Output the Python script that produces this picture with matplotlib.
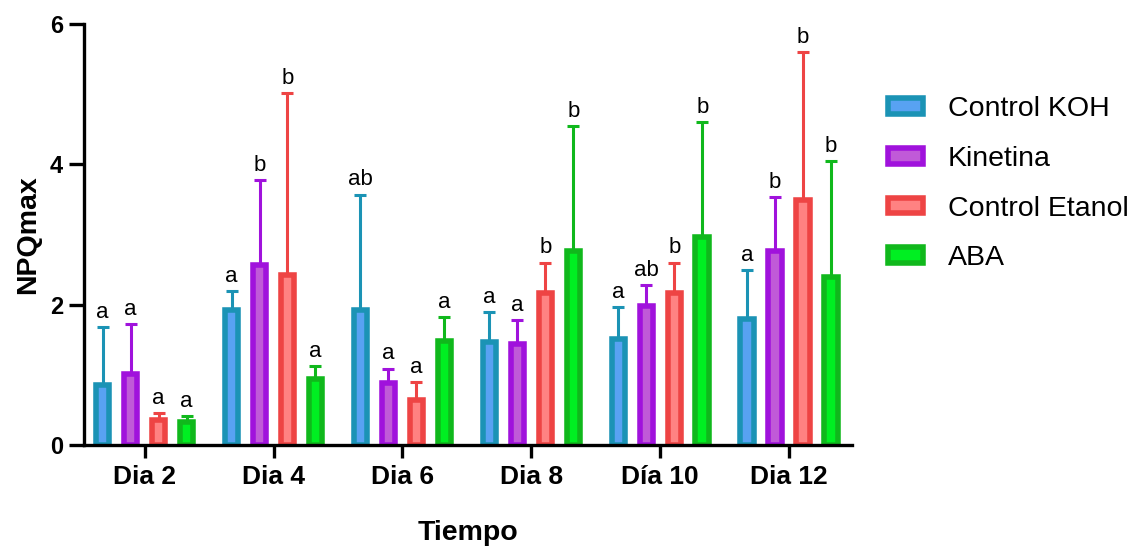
import numpy as np
import matplotlib.pyplot as plt

dias = ['Dia 2', 'Dia 4', 'Dia 6', 'Dia 8', 'Día 10', 'Dia 12']
series = ['Control KOH', 'Kinetina', 'Control Etanol', 'ABA']

koh = [0.85, 1.93, 1.93, 1.47, 1.51, 1.80]
kin = [1.01, 2.57, 0.88, 1.44, 1.98, 2.76]
eta = [0.36, 2.42, 0.64, 2.16, 2.16, 3.50]
aba = [0.33, 0.94, 1.48, 2.77, 2.96, 2.39]

koh_sd = [0.83, 0.27, 1.64, 0.42, 0.46, 0.69]
kin_sd = [0.71, 1.21, 0.21, 0.34, 0.30, 0.77]
eta_sd = [0.09, 2.60, 0.26, 0.44, 0.44, 2.10]
aba_sd = [0.08, 0.19, 0.34, 1.78, 1.65, 1.66]

koh_let = ['a', 'a', 'ab', 'a', 'a', 'a']
kin_let = ['a', 'b', 'a', 'a', 'ab', 'b']
eta_let = ['a', 'b', 'a', 'b', 'b', 'b']
aba_let = ['a', 'a', 'a', 'b', 'b', 'b']

medias = [koh, kin, eta, aba]
sds = [koh_sd, kin_sd, eta_sd, aba_sd]
letras = [koh_let, kin_let, eta_let, aba_let]

bordes = ['#1b93b5', '#a012dc', '#ee4444', '#10b81c']
rellenos = ['#58a2f2', '#c05ad8', '#ff8282', '#00ef22']

fuente = ['Liberation Sans', 'DejaVu Sans']

fig = plt.figure(figsize=(11.35, 5.5), dpi=100)
ax = fig.add_axes([0.074, 0.191, 0.677, 0.765])

x = np.arange(len(dias))
paso = 0.217
ancho = 0.105
handles = []
for i in range(4):
    pos = x + (i - 1.5) * paso
    b = ax.bar(pos, medias[i], width=ancho, color=rellenos[i], edgecolor=bordes[i],
               linewidth=4.0, label=series[i], zorder=3)
    handles.append(b)
    ax.errorbar(pos, medias[i], yerr=[np.zeros(6), sds[i]], fmt='none',
                ecolor=bordes[i], elinewidth=2.2, capsize=4.5, capthick=2.2, zorder=2)
    for p, m, s, l in zip(pos, medias[i], sds[i], letras[i]):
        ax.annotate(l, (p, m + s), xytext=(0, 3), textcoords='offset points',
                    ha='center', va='bottom', fontsize=16, family=fuente)

ax.set_xlim(-0.47, 5.49)
ax.set_ylim(0, 6)
ax.set_yticks([0, 2, 4, 6])
ax.set_xticks(x)
ax.set_xticklabels(dias)

for s in ['top', 'right']:
    ax.spines[s].set_visible(False)
for s in ['left', 'bottom']:
    ax.spines[s].set_linewidth(2.4)
    ax.spines[s].set_zorder(5)

ax.tick_params(axis='y', length=11, width=2.4, pad=4, labelsize=17)
ax.tick_params(axis='x', length=9.5, width=2.4, pad=5, labelsize=19)
for t in ax.get_xticklabels() + ax.get_yticklabels():
    t.set_family(fuente)
    t.set_fontweight('bold')

ax.set_xlabel('Tiempo', family=fuente, fontweight='bold', fontsize=20.5, labelpad=22)
ax.set_ylabel('NPQmax', family=fuente, fontweight='bold', fontsize=20.5, labelpad=6)

fig.legend(handles=handles, labels=series, loc='upper left', bbox_to_anchor=(0.760, 0.872),
           frameon=False, prop={'family': fuente, 'size': 20.5}, handlelength=1.21,
           handleheight=0.47, handletextpad=0.88, labelspacing=0.835)

fig.savefig('out.png', dpi=100)
